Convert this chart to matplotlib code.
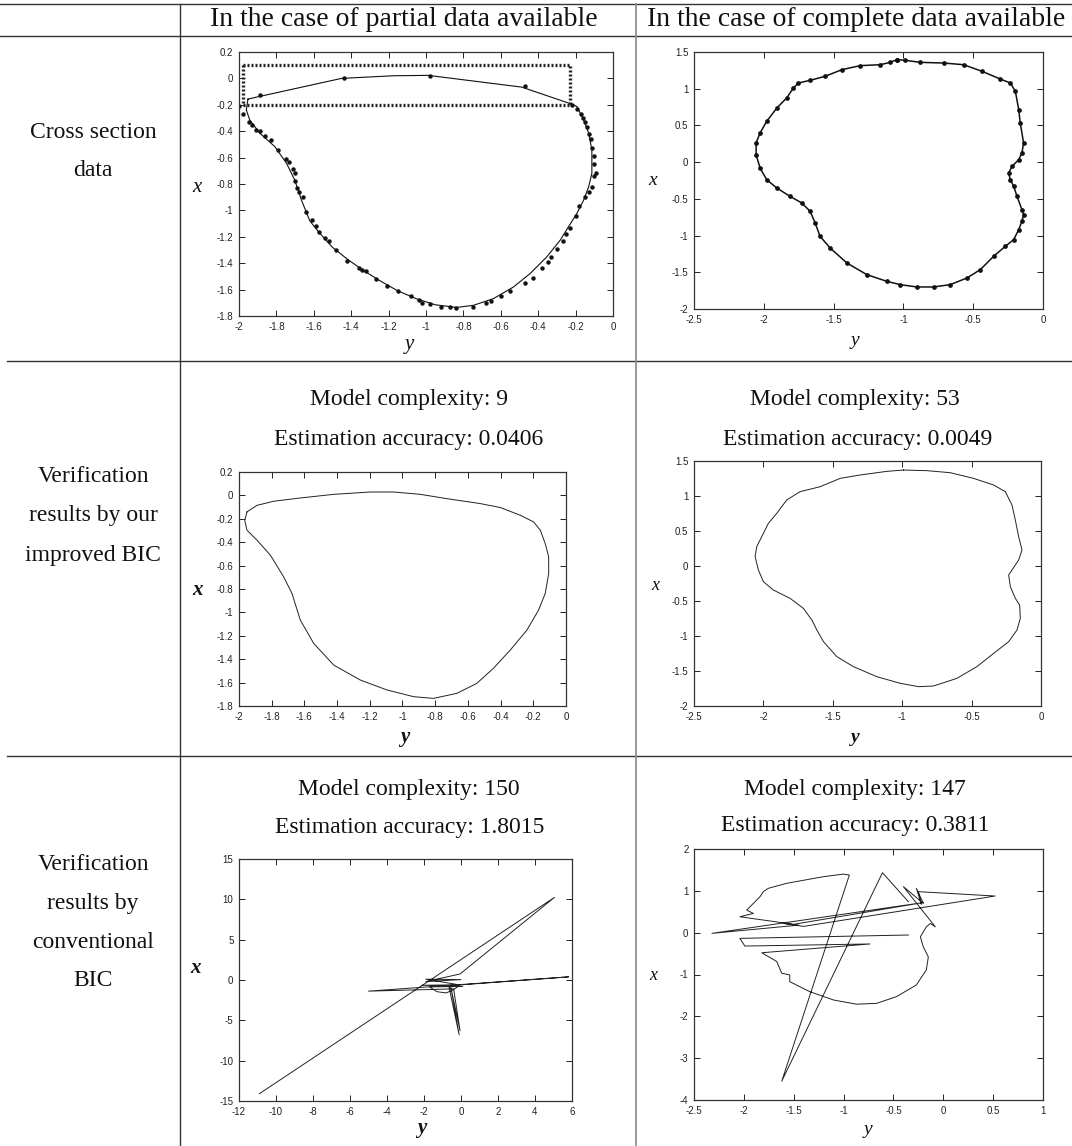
import matplotlib
matplotlib.use("Agg")
import matplotlib.pyplot as plt
from matplotlib.lines import Line2D
from matplotlib.ticker import MultipleLocator, FuncFormatter

plt.rcParams['font.family'] = ['Liberation Sans', 'DejaVu Sans']
plt.rcParams['axes.unicode_minus'] = False

W, H = 1072, 1146
SERIF = 'Liberation Serif'

# ---- panel 1: partial data (horizontal = y, vertical = x) ----
p1_line_y = [-1.952, -1.907, -1.452, -1.175, -0.988, -0.488, -0.237, -0.193, -0.157,
             -0.130, -0.113, -0.113, -0.130, -0.157, -0.193, -0.238, -0.282, -0.354,
             -0.443, -0.532, -0.639, -0.746, -0.836, -0.950, -1.050, -1.150, -1.250,
             -1.340, -1.420, -1.500, -1.570, -1.621, -1.666, -1.702, -1.746, -1.809,
             -1.889, -1.943, -1.961, -1.952]
p1_line_x = [-0.157, -0.142, 0.000, 0.020, 0.023, -0.066, -0.187, -0.213, -0.314,
             -0.415, -0.542, -0.719, -0.820, -0.922, -1.023, -1.124, -1.225, -1.352,
             -1.478, -1.580, -1.668, -1.719, -1.735, -1.715, -1.670, -1.610, -1.530,
             -1.450, -1.370, -1.280, -1.170, -1.080, -0.922, -0.770, -0.643, -0.516,
             -0.415, -0.314, -0.238, -0.157]
p1_dots_y = [-2.00, -1.98, -1.945, -1.93, -1.91, -1.89, -1.86, -1.83, -1.79, -1.75, -1.73,
             -1.71, -1.70, -1.70, -1.69, -1.68, -1.66, -1.64, -1.61, -1.59, -1.57, -1.54,
             -1.52, -1.48, -1.42, -1.36, -1.34, -1.32, -1.27, -1.21, -1.15, -1.08, -1.04,
             -1.02, -0.98, -0.92, -0.87, -0.84, -0.75, -0.68, -0.65, -0.60, -0.55, -0.47,
             -0.43, -0.38, -0.35, -0.33, -0.30, -0.27, -0.25, -0.23, -0.20, -0.18, -0.15,
             -0.13, -0.11, -0.10, -0.09, -0.10, -0.10, -0.11, -0.12, -0.13, -0.14, -0.15,
             -0.16, -0.17, -0.19, -0.22, -0.47, -0.98, -1.44, -1.89]
p1_dots_x = [-0.21, -0.27, -0.33, -0.35, -0.39, -0.40, -0.44, -0.47, -0.54, -0.61, -0.63,
             -0.69, -0.72, -0.78, -0.83, -0.86, -0.90, -1.01, -1.07, -1.12, -1.16, -1.21,
             -1.23, -1.30, -1.38, -1.44, -1.45, -1.46, -1.52, -1.57, -1.61, -1.65, -1.68,
             -1.70, -1.71, -1.73, -1.73, -1.74, -1.73, -1.70, -1.69, -1.65, -1.61, -1.55,
             -1.51, -1.44, -1.39, -1.35, -1.29, -1.23, -1.18, -1.13, -1.04, -0.97, -0.90,
             -0.86, -0.82, -0.74, -0.72, -0.65, -0.59, -0.53, -0.46, -0.42, -0.37, -0.33,
             -0.30, -0.27, -0.23, -0.20, -0.06, 0.015, 0.00, -0.125]
p1_box_y = [-1.98, -0.23, -0.23, -1.98, -1.98]
p1_box_x = [0.10, 0.10, -0.20, -0.20, 0.10]

# ---- panel 2: complete data ----
p2_y = [-1.047, -0.987, -0.880, -0.712, -0.569, -0.437, -0.306, -0.234, -0.198, -0.174,
        -0.163, -0.139, -0.151, -0.174, -0.222, -0.246, -0.234, -0.210, -0.186, -0.151,
        -0.139, -0.151, -0.174, -0.210, -0.270, -0.354, -0.449, -0.545, -0.664, -0.784,
        -0.903, -1.023, -1.119, -1.262, -1.405, -1.525, -1.597, -1.632, -1.668, -1.728,
        -1.812, -1.907, -1.979, -2.027, -2.055, -2.055, -2.027, -1.979, -1.907, -1.836,
        -1.788, -1.752, -1.668, -1.561, -1.441, -1.310, -1.166, -1.094, -1.047]
p2_x = [1.396, 1.387, 1.359, 1.350, 1.327, 1.237, 1.132, 1.078, 0.964, 0.715,
        0.533, 0.261, 0.125, 0.034, -0.057, -0.148, -0.239, -0.329, -0.466, -0.647,
        -0.715, -0.806, -0.919, -1.056, -1.146, -1.283, -1.464, -1.578, -1.668, -1.700,
        -1.700, -1.668, -1.623, -1.532, -1.373, -1.169, -1.010, -0.829, -0.670, -0.556,
        -0.466, -0.352, -0.239, -0.080, 0.102, 0.261, 0.397, 0.556, 0.737, 0.874,
        1.010, 1.078, 1.114, 1.169, 1.259, 1.314, 1.327, 1.359, 1.396]

# ---- panel 3: improved BIC, partial data ----
p3_y = [-1.951, -1.890, -1.788, -1.625, -1.421, -1.197, -1.054, -0.891, -0.728, -0.524,
        -0.401, -0.279, -0.198, -0.157, -0.127, -0.106, -0.106, -0.127, -0.168, -0.239,
        -0.341, -0.444, -0.546, -0.668, -0.811, -0.933, -1.095, -1.258, -1.421, -1.543,
        -1.625, -1.676, -1.727, -1.808, -1.890, -1.951, -1.965, -1.951]
p3_x = [-0.141, -0.085, -0.050, -0.022, 0.009, 0.029, 0.029, 0.009, -0.028, -0.070,
        -0.104, -0.170, -0.227, -0.298, -0.412, -0.525, -0.668, -0.838, -0.981, -1.151,
        -1.322, -1.478, -1.607, -1.692, -1.735, -1.720, -1.663, -1.578, -1.450, -1.265,
        -1.066, -0.838, -0.696, -0.511, -0.383, -0.298, -0.213, -0.141]

# ---- panel 4: improved BIC, complete data ----
p4_y = [-0.990, -0.822, -0.654, -0.486, -0.341, -0.257, -0.209, -0.185, -0.161, -0.137,
        -0.161, -0.209, -0.233, -0.221, -0.185, -0.154, -0.149, -0.173, -0.233, -0.341,
        -0.462, -0.606, -0.774, -0.882, -1.014, -1.183, -1.351, -1.471, -1.567, -1.615,
        -1.651, -1.712, -1.808, -1.928, -2.000, -2.036, -2.060, -2.048, -2.012, -1.964,
        -1.904, -1.832, -1.736, -1.591, -1.447, -1.303, -1.111, -0.990]
p4_x = [1.371, 1.362, 1.333, 1.252, 1.157, 1.062, 0.871, 0.657, 0.419, 0.229,
        0.086, -0.057, -0.129, -0.295, -0.462, -0.557, -0.748, -0.914, -1.081, -1.248,
        -1.438, -1.605, -1.714, -1.724, -1.676, -1.581, -1.438, -1.295, -1.081, -0.914,
        -0.771, -0.605, -0.462, -0.343, -0.224, -0.057, 0.133, 0.276, 0.419, 0.610,
        0.752, 0.943, 1.062, 1.133, 1.252, 1.300, 1.352, 1.371]

# ---- panel 5: conventional BIC, partial data ----
p5_y = [-10.9, 5.05, -0.05, -1.9, 0.0, -1.9, -0.1, -2.1, 0.1, -1.7, -1.3, -0.8, -0.45,
        -0.05, -0.65, -0.1, -0.55, -0.05, -0.4, -5.0, 5.82, 0.0]
p5_x = [-14.1, 10.24, 0.75, -0.2, 0.05, 0.1, -0.6, -0.65, -0.8, -0.85, -1.45, -1.6, -1.25,
        -0.65, -0.85, -6.8, -0.9, -6.3, -1.1, -1.38, 0.39, -0.6]

# ---- panel 6: conventional BIC, complete data ----
p6_y = [-0.35, -2.04, -1.99, -0.735, -1.82, -1.67, -1.62, -1.54, -1.54, -1.34, -1.10,
        -0.87, -0.67, -0.47, -0.27, -0.17, -0.15, -0.20, -0.23, -0.17, -0.13, -0.08,
        -0.40, -0.20, -0.27, -0.22, -0.25, 0.52, -1.40, -1.60, -1.45, -2.32, -0.20,
        -1.50, -2.04, -1.905, -1.971, -1.921, -1.838, -1.805, -1.755, -1.570, -1.203,
        -1.002, -0.942, -1.62, -0.61, -0.35]
p6_x = [-0.056, -0.136, -0.32, -0.27, -0.48, -0.69, -0.97, -1.01, -1.17, -1.41, -1.61,
        -1.71, -1.69, -1.53, -1.25, -0.89, -0.58, -0.34, -0.10, 0.14, 0.22, 0.14,
        1.10, 0.70, 1.06, 0.68, 0.98, 0.876, 0.15, 0.22, 0.18, -0.016, 0.72,
        0.20, 0.38, 0.46, 0.54, 0.66, 0.86, 0.98, 1.06, 1.18, 1.338,
        1.40, 1.378, -3.55, 1.433, 0.74]

col_titles = ["In the case of partial data available", "In the case of complete data available"]
row_titles = [["Cross section", "data"],
              ["Verification", "results by our", "improved BIC"],
              ["Verification", "results by", "conventional", "BIC"]]
complexity = [[9, 53], [150, 147]]
accuracy = [["0.0406", "0.0049"], ["1.8015", "0.3811"]]

fig = plt.figure(figsize=(W / 100, H / 100), dpi=100)


def fx(p):
    return p / W


def fy(p):
    return 1 - p / H


def add_ax(l, t, r, b, xlim, ylim, xstep, ystep):
    ax = fig.add_axes([fx(l), fy(b), (r - l) / W, (b - t) / H])
    ax.set_xlim(*xlim)
    ax.set_ylim(*ylim)
    ax.xaxis.set_major_locator(MultipleLocator(xstep))
    ax.yaxis.set_major_locator(MultipleLocator(ystep))
    fmt = FuncFormatter(lambda v, p: '%g' % round(v, 6))
    ax.xaxis.set_major_formatter(fmt)
    ax.yaxis.set_major_formatter(fmt)
    ax.tick_params(direction='in', top=True, right=True, length=4, width=0.7,
                   labelsize=7, pad=4, colors='#222222')
    for s in ax.spines.values():
        s.set_linewidth(0.9)
        s.set_color('#333333')
    return ax


def txt(x, y, s, size=17, **kw):
    fig.text(fx(x), fy(y), s, ha='center', va='center', fontsize=size,
             family=SERIF, color='#111111', **kw)


# table lines
line_kw = dict(transform=fig.transFigure, color='#333333', lw=1.0)
fig.add_artist(Line2D([0, 1], [fy(4), fy(4)], **line_kw))
fig.add_artist(Line2D([0, 1], [fy(36), fy(36)], **line_kw))
fig.add_artist(Line2D([fx(7), 1], [fy(361), fy(361)], **line_kw))
fig.add_artist(Line2D([fx(7), 1], [fy(756), fy(756)], **line_kw))
fig.add_artist(Line2D([fx(180), fx(180)], [fy(4), 0], **line_kw))
fig.add_artist(Line2D([fx(636), fx(636)], [fy(4), 0], transform=fig.transFigure,
                      color='#888888', lw=1.2))

# header and row labels
txt(404, 20, col_titles[0], size=20)
txt(856, 20, col_titles[1], size=20)
for i, s in enumerate(row_titles[0]):
    txt(93, 133 + 37 * i, s)
for i, s in enumerate(row_titles[1]):
    txt(93, 476 + 40 * i, s)
for i, s in enumerate(row_titles[2]):
    txt(93, 864 + 39 * i, s)

txt(409, 400, "Model complexity: %d" % complexity[0][0])
txt(409, 440, "Estimation accuracy: %s" % accuracy[0][0])
txt(855, 400, "Model complexity: %d" % complexity[0][1])
txt(858, 440, "Estimation accuracy: %s" % accuracy[0][1])
txt(409, 790, "Model complexity: %d" % complexity[1][0])
txt(410, 828, "Estimation accuracy: %s" % accuracy[1][0])
txt(855, 790, "Model complexity: %d" % complexity[1][1])
txt(855, 826, "Estimation accuracy: %s" % accuracy[1][1])

# panel 1
ax1 = add_ax(239, 52, 613, 316, (-2, 0), (-1.8, 0.2), 0.2, 0.2)
ax1.plot(p1_box_y, p1_box_x, color='#222222', lw=2.4, ls=(0, (0.6, 0.6)))
ax1.plot(p1_line_y, p1_line_x, color='#111111', lw=0.8)
ax1.plot(p1_dots_y, p1_dots_x, ls='none', marker='o', ms=2.2, color='#111111')

# panel 2
ax2 = add_ax(694, 52, 1043, 309, (-2.5, 0), (-2, 1.5), 0.5, 0.5)
ax2.plot(p2_y, p2_x, color='#111111', lw=1.1, marker='o', ms=2.4)

# panel 3
ax3 = add_ax(239, 472, 566, 706, (-2, 0), (-1.8, 0.2), 0.2, 0.2)
ax3.plot(p3_y, p3_x, color='#222222', lw=0.7)

# panel 4
ax4 = add_ax(694, 461, 1041, 706, (-2.5, 0), (-2, 1.5), 0.5, 0.5)
ax4.plot(p4_y, p4_x, color='#222222', lw=0.7)

# panel 5
ax5 = add_ax(239, 859, 572, 1101, (-12, 6), (-15, 15), 2, 5)
ax5.plot(p5_y, p5_x, color='#222222', lw=0.7)

# panel 6
ax6 = add_ax(694, 849, 1043, 1100, (-2.5, 1), (-4, 2), 0.5, 1)
ax6.plot(p6_y, p6_x, color='#222222', lw=0.7)

# axis letters
txt(197, 187, "x", size=15, style='italic')
txt(409, 345, "y", size=15, style='italic')
txt(653, 180, "x", size=14, style='italic')
txt(855, 341, "y", size=14, style='italic')
txt(197, 590, "x", size=15, style='italic', weight='bold')
txt(405, 737, "y", size=15, style='italic', weight='bold')
txt(655, 585, "x", size=13, style='italic')
txt(855, 737, "y", size=14, style='italic', weight='bold')
txt(196, 968, "x", size=15, style='italic', weight='bold')
txt(422, 1128, "y", size=15, style='italic', weight='bold')
txt(653, 975, "x", size=13, style='italic')
txt(868, 1130, "y", size=14, style='italic')

fig.savefig("out.png", dpi=100)
